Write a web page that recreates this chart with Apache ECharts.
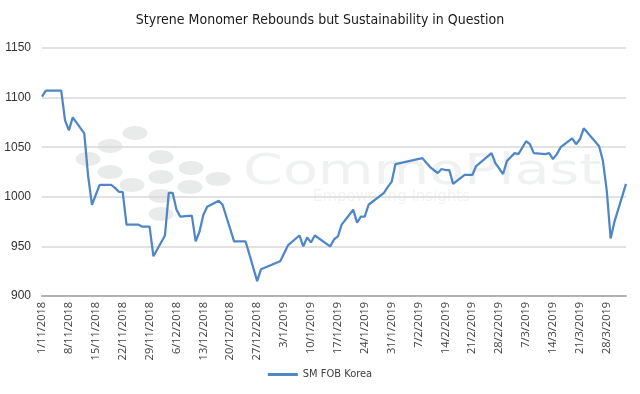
<!DOCTYPE html>
<html>
<head>
<meta charset="utf-8">
<script src="https://cdn.jsdelivr.net/npm/echarts@6/dist/echarts.min.js"></script>
<style>html,body{margin:0;padding:0;background:#fff}#c{width:640px;height:394px}</style>
</head>
<body>
<div id="c"></div>
<script>
const titleText = 'Styrene Monomer Rebounds but Sustainability in Question';
const seriesName = 'SM FOB Korea';
const dates = [
'2018-11-01','2018-11-02','2018-11-06','2018-11-07','2018-11-08','2018-11-09','2018-11-12','2018-11-13','2018-11-14','2018-11-16',
'2018-11-19','2018-11-20','2018-11-21','2018-11-22','2018-11-23','2018-11-26','2018-11-27','2018-11-29','2018-11-30','2018-12-03',
'2018-12-04','2018-12-05','2018-12-06','2018-12-07','2018-12-10','2018-12-11','2018-12-12','2018-12-13','2018-12-14','2018-12-17',
'2018-12-18','2018-12-21','2018-12-24','2018-12-27','2018-12-28','2019-01-02','2019-01-04','2019-01-07','2019-01-08','2019-01-09',
'2019-01-10','2019-01-11','2019-01-15','2019-01-16','2019-01-17','2019-01-18','2019-01-21','2019-01-22','2019-01-23','2019-01-24',
'2019-01-25','2019-01-29','2019-01-30','2019-01-31','2019-02-01','2019-02-08','2019-02-10','2019-02-12','2019-02-13','2019-02-14',
'2019-02-15','2019-02-16','2019-02-19','2019-02-21','2019-02-22','2019-02-26','2019-02-27','2019-03-01','2019-03-02','2019-03-04',
'2019-03-05','2019-03-07','2019-03-08','2019-03-09','2019-03-12','2019-03-13','2019-03-14','2019-03-15','2019-03-16','2019-03-19',
'2019-03-20','2019-03-21','2019-03-22','2019-03-26','2019-03-27','2019-03-28','2019-03-29','2019-03-30','2019-04-02'
];
const values = [
1101,1107,1107,1077,1067,1080,1064,1021,992,1012,
1012,1009,1005,1005,972,972,970,970,940,961,
1004,1004,987,980,981,955,965,982,990,996,
992,955,955,915,927,935,951,961,950,959,
954,961,950,957,960,972,987,974,980,980,
992,1004,1010,1015,1033,1039,1030,1024,1028,1027,
1027,1013,1022,1022,1031,1044,1034,1023,1036,1044,
1043,1056,1053,1044,1043,1044,1038,1043,1050,1059,
1053,1058,1069,1051,1036,1006,958,975,1013
];
const xStart = '2018-11-01';
const xEnd = '2019-04-02';
const yTicks = [900, 950, 1000, 1050, 1100, 1150];

function ts(s){const p=s.split('-').map(Number);return Date.UTC(p[0],p[1]-1,p[2]);}
const WEEK = 7*86400000;
const chart = echarts.init(document.getElementById('c'), null, {renderer:'canvas'});

const dots = [[135,133],[110,146],[88,159],[110,172],[132,185],[161,157],[161,177],[161,196],[161,214],[191,168],[190,187],[218,179]];
const graphic = dots.map(d=>({type:'ellipse', shape:{cx:d[0],cy:d[1],rx:12.5,ry:7}, style:{fill:'#e9ebea'}, z:-10, silent:true}));
graphic.push({type:'text', left:243, top:152, z:-10, silent:true, scaleX:1.36, style:{text:'CommoPlast', font:'normal 42px "DejaVu Sans", sans-serif', fill:'#f0f1f1'}});
graphic.push({type:'text', left:313, top:190, z:-10, silent:true, style:{text:'Empowering Insights', font:'15px "DejaVu Sans", sans-serif', fill:'#f2f3f3'}});

chart.setOption({
  animation:false,
  backgroundColor:'#ffffff',
  title:{text:titleText, left:'center', top:8, textStyle:{fontFamily:'"Liberation Sans Narrow","DejaVu Sans Condensed",sans-serif', fontSize:14, fontWeight:'normal', color:'#1a1a1a'}},
  graphic: graphic,
  grid:{left:42, right:14, top:48, bottom:98, containLabel:false},
  legend:{bottom:9, left:'center', itemWidth:30, itemHeight:3, itemGap:10, icon:'rect',
    textStyle:{fontFamily:'"Liberation Sans Narrow","DejaVu Sans Condensed",sans-serif', fontSize:11, color:'#404040'},
    data:[seriesName]},
  xAxis:{type:'value', min:ts(xStart), max:ts(xEnd), interval:WEEK,
    axisLine:{show:true, onZero:false, lineStyle:{color:'#b3b3b3', width:2}},
    axisTick:{show:false}, splitLine:{show:false},
    axisLabel:{rotate:90, fontSize:11, color:'#404040', margin:6, fontFamily:'"Open Sans","DejaVu Sans",sans-serif',
      showMaxLabel:false,
      formatter:function(v){const d=new Date(v); if(Math.round((v-ts(xStart))/86400000)%7!==0) return ''; return d.getUTCDate()+'/'+(d.getUTCMonth()+1)+'/'+d.getUTCFullYear();}}},
  yAxis:{type:'value', min:yTicks[0], max:yTicks[yTicks.length-1], interval:50,
    axisLine:{show:false}, axisTick:{show:false},
    splitLine:{lineStyle:{color:'#d9d9d9', width:1.5}},
    axisLabel:{fontSize:12, color:'#333333', margin:11, fontFamily:'"Liberation Sans",sans-serif', formatter:function(v){return String(v);}}},
  series:[{name:seriesName, type:'line', symbol:'none', smooth:false,
    lineStyle:{color:'#4f86c6', width:2.25}, itemStyle:{color:'#4f86c6'},
    data: dates.map((d,i)=>[ts(d), values[i]]), z:5}]
});
</script>
</body>
</html>
